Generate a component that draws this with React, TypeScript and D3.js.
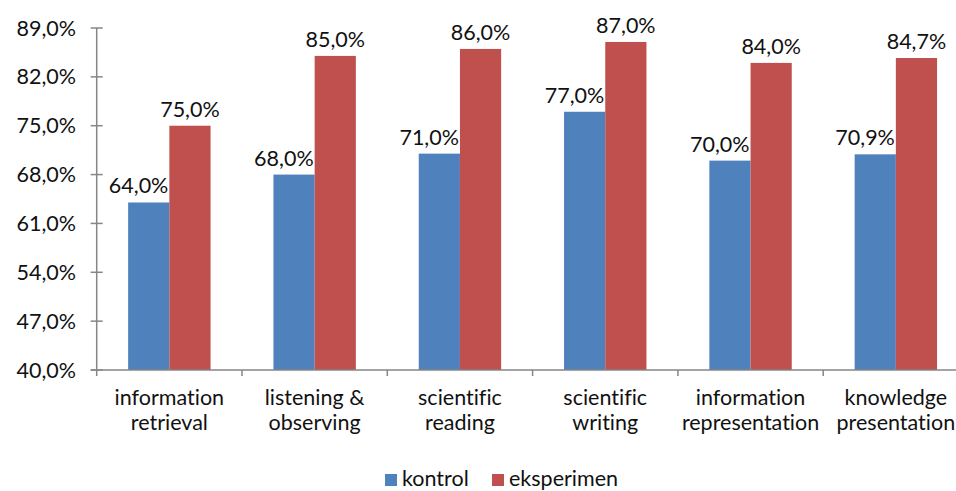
import React from "react";
import * as d3 from "d3";

const categories = [
  ["information", "retrieval"],
  ["listening &", "observing"],
  ["scientific", "reading"],
  ["scientific", "writing"],
  ["information", "representation"],
  ["knowledge", "presentation"],
];
const kontrol = [64.0, 68.0, 71.0, 77.0, 70.0, 70.9];
const eksperimen = [75.0, 85.0, 86.0, 87.0, 84.0, 84.7];
const yTicks = [40, 47, 54, 61, 68, 75, 82, 89];
const seriesNames = ["kontrol", "eksperimen"];
const colors = ["#4F81BD", "#C0504D"];

const W = 956;
const H = 491;
const left = 96.7;
const catW = 145.3;
const top = 28;
const bottom = 370;
const FONT = "Lato, 'Open Sans', sans-serif";

const fmt = (v: number) => v.toFixed(1).replace(".", ",") + "%";

export default function App() {
  const x = d3
    .scaleBand<number>()
    .domain(d3.range(categories.length))
    .range([left, left + catW * categories.length])
    .paddingInner(0)
    .paddingOuter(0);
  const y = d3.scaleLinear().domain([40, 89]).range([bottom, top]);
  const barW = 41.2;
  const series = [kontrol, eksperimen];
  const axisColor = "#868686";
  const fs = 21.5;

  return (
    <svg
      width={W}
      height={H}
      style={{ position: "absolute", left: 0, top: 0, background: "#fff", fontVariantLigatures: "none" }}
      fontFamily={FONT}
    >
      {series.map((vals, si) =>
        vals.map((v, i) => {
          const cx = x(i)! + catW / 2;
          const bx = cx - barW + si * barW;
          return (
            <g key={`${si}-${i}`}>
              <rect
                x={bx}
                y={y(v)}
                width={barW}
                height={y(40) - y(v)}
                fill={colors[si]}
              />
              <text
                x={si === 0 ? bx + barW - 1 : bx + barW / 2}
                y={y(v) - 9}
                textAnchor={si === 0 ? "end" : "middle"}
                fontSize={fs}
                fill="#111"
              >
                {fmt(v)}
              </text>
            </g>
          );
        })
      )}
      {/* y axis */}
      <line x1={left} x2={left} y1={top} y2={bottom} stroke={axisColor} strokeWidth={1.5} />
      {yTicks.map((t) => (
        <g key={t}>
          <line x1={left - 6} x2={left + 6} y1={y(t)} y2={y(t)} stroke={axisColor} strokeWidth={1.5} />
          <text x={76} y={y(t)} dy="0.35em" textAnchor="end" fontSize={fs} fill="#111">
            {fmt(t)}
          </text>
        </g>
      ))}
      {/* x axis */}
      <line x1={left - 6} x2={W} y1={bottom} y2={bottom} stroke={axisColor} strokeWidth={1.5} />
      {d3.range(categories.length + 1).map((i) => (
        <line
          key={i}
          x1={left + i * catW}
          x2={left + i * catW}
          y1={bottom}
          y2={bottom + 6}
          stroke={axisColor}
          strokeWidth={1.5}
        />
      ))}
      {categories.map((lines, i) => (
        <text key={i} textAnchor="middle" fontSize={fs} fill="#111">
          {lines.map((l, j) => (
            <tspan key={j} x={x(i)! + catW / 2} y={405 + j * 25}>
              {l}
            </tspan>
          ))}
        </text>
      ))}
      {/* legend */}
      {seriesNames.map((n, i) => {
        const lx = i === 0 ? 385 : 492;
        return (
          <g key={n}>
            <rect x={lx} y={474} width={12} height={12} fill={colors[i]} />
            <text x={lx + 17} y={486} fontSize={fs} fill="#111">
              {n}
            </text>
          </g>
        );
      })}
    </svg>
  );
}
